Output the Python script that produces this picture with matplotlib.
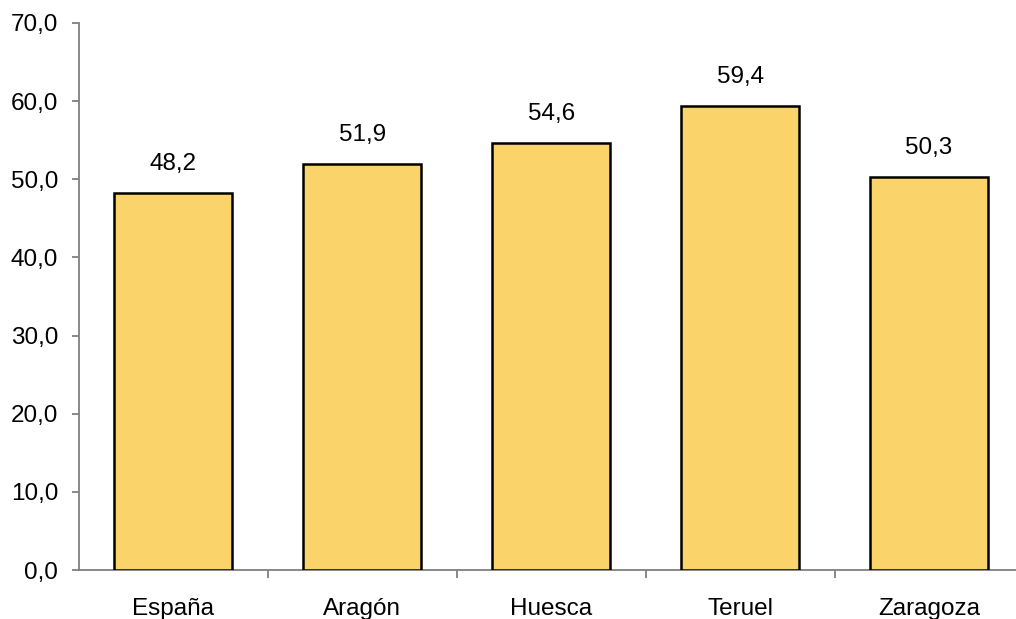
import matplotlib.pyplot as plt
import numpy as np
from matplotlib.ticker import FuncFormatter, FixedLocator

plt.rcParams['font.family'] = ['Liberation Sans', 'DejaVu Sans']

categories = ['España', 'Aragón', 'Huesca', 'Teruel', 'Zaragoza']
values = [48.2, 51.9, 54.6, 59.4, 50.3]

fig = plt.figure(figsize=(10.16, 6.19), dpi=100)
ax = fig.add_axes([79 / 1016, 1 - 570 / 619, 944.5 / 1016, 547 / 619])

x = np.arange(len(categories))
ax.bar(x, values, width=0.625, color='#FAD46B', edgecolor='black', linewidth=1.8, zorder=3)

for xi, v in zip(x, values):
    ax.annotate(f"{v:.1f}".replace('.', ','), (xi, v), xytext=(0, 13),
                textcoords='offset points', ha='center', va='bottom', fontsize=17.5)

ax.set_xlim(-0.5, len(categories) - 0.5)
ax.set_ylim(0, 70)
ax.set_yticks(np.arange(0, 71, 10))
ax.yaxis.set_major_formatter(FuncFormatter(lambda v, p: f"{v:.1f}".replace('.', ',')))
ax.set_xticks(x)
ax.set_xticklabels(categories)
ax.xaxis.set_minor_locator(FixedLocator(np.arange(0.5, len(categories) - 0.5, 1)))

for s in ['top', 'right']:
    ax.spines[s].set_visible(False)
for s in ['left', 'bottom']:
    ax.spines[s].set_color('#808080')
    ax.spines[s].set_linewidth(1.3)

ax.tick_params(axis='y', length=5, width=1.3, color='#808080', pad=10, labelsize=17.5)
ax.tick_params(axis='x', which='major', length=0, pad=20, labelsize=17.5)
ax.tick_params(axis='x', which='minor', length=6, width=1.3, color='#808080')

fig.savefig('out.png', dpi=100)
